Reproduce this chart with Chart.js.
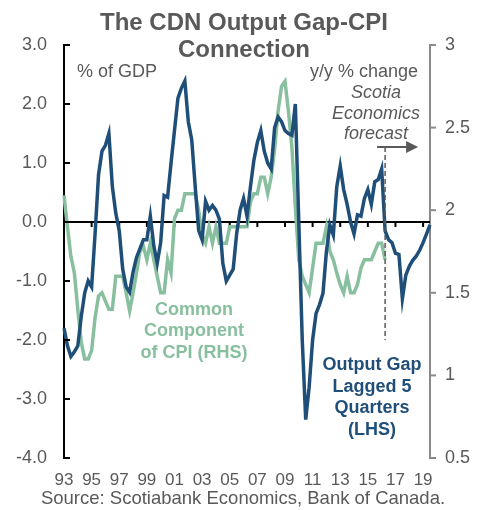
<!DOCTYPE html>
<html>
<head>
<meta charset="utf-8">
<script src="https://cdn.jsdelivr.net/npm/chart.js@4.4.1/dist/chart.umd.min.js"></script>
<style>
    html, body { margin: 0; padding: 0; background: #fff; }
</style>
</head>
<body>
<canvas id="myChart" width="487" height="510"></canvas>
<script>
// quarterly, 1993Q1 .. 2019Q3
const startYear = 1993;
const quarterCount = 107;
const quarterLabels = [];
for (let i = 0; i < quarterCount; i++) {
    quarterLabels.push((startYear + Math.floor(i / 4)) + 'Q' + (i % 4 + 1));
}
// x tick labels shown (odd years, first quarter)
const yearTicks = ['93', '95', '97', '99', '01', '03', '05', '07', '09', '11', '13', '15', '17', '19'];
const forecastStart = '2016Q2';

// output gap lagged 5 quarters, % of GDP (LHS)
const outputGap = [
    -1.8, -2.1, -2.28, -2.2, -2.1, -1.6, -1.2, -1.0, -1.1, -0.2,
    0.8, 1.2, 1.3, 1.5, 0.6, 0.15, -0.15, -0.8, -1.1, -1.19,
    -0.85, -0.6, -0.45, -0.3, -0.3, 0.1, -0.4, -0.7, -0.35, 0.45,
    0.42, 1.0, 1.55, 2.1, 2.27, 2.39, 1.7, 1.39, 0.6, -0.14,
    -0.3, 0.35, 0.2, 0.28, 0.2, 0.05, -0.7, -1.0, -0.9, -0.8,
    -0.2, 0.2, 0.4, 0.1, 0.6, 1.05, 1.35, 1.55, 1.2, 1.0,
    0.9, 1.6, 1.78, 1.7, 1.55, 1.5, 1.47, 2.0, 0.0, -2.0,
    -3.35, -2.8, -2.0, -1.55, -1.4, -1.21, -0.5, -0.05, -0.22, 0.6,
    0.95, 0.55, 0.3, 0.0, -0.2, 0.12, 0.1, 0.4, 0.55, 0.3,
    0.68, 0.72, 0.9, -0.15, -0.3, -0.35, -0.53, -0.55, -1.3, -0.9,
    -0.75, -0.65, -0.58, -0.48, -0.35, -0.2, -0.05
];

// common component of CPI, y/y % change (RHS)
const cpiCommon = [
    2.09, 1.9, 1.72, 1.62, 1.4, 1.2, 1.1, 1.1, 1.15, 1.35,
    1.48, 1.5, 1.45, 1.4, 1.4, 1.6, 1.6, 1.6, 1.5, 1.39,
    1.5, 1.62, 1.75, 1.78, 1.7, 1.8, 1.7, 1.6, 1.5, 1.5,
    1.7, 1.62, 1.95, 2.0, 2.0, 2.1, 2.1, 2.1, 2.1, 2.0,
    1.85, 1.8, 1.9, 1.8, 1.9, 1.8, 1.8, 1.8, 1.9, 1.9,
    1.9, 1.9, 1.9, 1.9, 2.05, 2.1, 2.1, 2.2, 2.2, 2.1,
    2.2, 2.37, 2.6, 2.75, 2.78, 2.6, 2.38, 2.02, 1.7, 1.6,
    1.55, 1.5, 1.65, 1.8, 1.8, 1.8, 1.9, 1.75, 1.7, 1.62,
    1.55, 1.5, 1.6, 1.5, 1.5, 1.55, 1.65, 1.7, 1.7, 1.7,
    1.75, 1.8, 1.8, 1.7
];

const leftTicks = [-4, -3, -2, -1, 0, 1, 2, 3];
const rightTicks = [0.5, 1, 1.5, 2, 2.5, 3];

const FONT = "'Liberation Sans', Arial, sans-serif";
const GREY = '#595959';
const BLUE = '#1f4e79';
const GREEN = '#88c09f';

function txt(ctx, s, x, y, font, color, align) {
    ctx.font = font;
    ctx.fillStyle = color;
    ctx.textAlign = align || 'center';
    ctx.textBaseline = 'middle';
    ctx.fillText(s, x, y);
}

const decor = {
    id: 'decor',
    beforeDatasetsDraw: function (chart) {
        const ctx = chart.ctx, a = chart.chartArea;
        const x = chart.scales.x, y = chart.scales.y;
        const y0 = y.getPixelForValue(0);
        ctx.save();
        ctx.strokeStyle = '#000';
        ctx.lineWidth = 2;
        ctx.beginPath();
        ctx.moveTo(a.left, y0);
        ctx.lineTo(a.right, y0);
        ctx.stroke();
        quarterLabels.forEach(function (lab, i) {
            if (i > 0 && yearTicks.indexOf(lab.slice(2, 4)) >= 0 && lab.endsWith('Q1')) {
                const px = x.getPixelForValue(i);
                ctx.beginPath();
                ctx.moveTo(px, y0);
                ctx.lineTo(px, y0 + 5);
                ctx.stroke();
            }
        });
        ctx.restore();
    },
    afterDraw: function (chart) {
        const ctx = chart.ctx, a = chart.chartArea;
        const x = chart.scales.x, y = chart.scales.y, y2 = chart.scales.y2;
        ctx.save();
        // axis tick marks
        ctx.lineWidth = 2;
        ctx.strokeStyle = '#000';
        leftTicks.forEach(function (v) {
            const py = y.getPixelForValue(v);
            ctx.beginPath();
            ctx.moveTo(a.left, py);
            ctx.lineTo(a.left + 6, py);
            ctx.stroke();
        });
        ctx.strokeStyle = '#8a8a8a';
        rightTicks.forEach(function (v) {
            const py = y2.getPixelForValue(v);
            ctx.beginPath();
            ctx.moveTo(a.right, py);
            ctx.lineTo(a.right + 6, py);
            ctx.stroke();
        });

        // title
        txt(ctx, 'The CDN Output Gap-CPI', 244, 23, 'bold 24px ' + FONT, GREY);
        txt(ctx, 'Connection', 244, 50, 'bold 24px ' + FONT, GREY);

        txt(ctx, '% of GDP', 77, 72, '18px ' + FONT, GREY, 'left');
        txt(ctx, 'y/y % change', 418, 72, '18px ' + FONT, GREY, 'right');
        txt(ctx, 'Scotia', 376, 93, 'italic 18px ' + FONT, GREY);
        txt(ctx, 'Economics', 376, 114, 'italic 18px ' + FONT, GREY);
        txt(ctx, 'forecast', 376, 134, 'italic 18px ' + FONT, GREY);

        // forecast marker
        const fx = x.getPixelForValue(quarterLabels.indexOf(forecastStart));
        ctx.strokeStyle = GREY;
        ctx.lineWidth = 1.5;
        ctx.setLineDash([5, 3]);
        ctx.beginPath();
        ctx.moveTo(fx, 147);
        ctx.lineTo(fx, 340);
        ctx.stroke();
        ctx.setLineDash([]);
        ctx.lineWidth = 2;
        ctx.beginPath();
        ctx.moveTo(fx - 8, 147);
        ctx.lineTo(fx + 24, 147);
        ctx.stroke();
        ctx.fillStyle = GREY;
        ctx.beginPath();
        ctx.moveTo(fx + 33, 147);
        ctx.lineTo(fx + 21, 141);
        ctx.lineTo(fx + 21, 153);
        ctx.closePath();
        ctx.fill();

        // series labels
        txt(ctx, 'Common', 194, 310, 'bold 18px ' + FONT, GREEN);
        txt(ctx, 'Component', 194, 331, 'bold 18px ' + FONT, GREEN);
        txt(ctx, 'of CPI (RHS)', 194, 353, 'bold 18px ' + FONT, GREEN);

        txt(ctx, 'Output Gap', 372, 365, 'bold 18px ' + FONT, BLUE);
        txt(ctx, 'Lagged 5', 372, 387, 'bold 18px ' + FONT, BLUE);
        txt(ctx, 'Quarters', 372, 408, 'bold 18px ' + FONT, BLUE);
        txt(ctx, '(LHS)', 372, 430, 'bold 18px ' + FONT, BLUE);

        txt(ctx, 'Source: Scotiabank Economics, Bank of Canada.', 243, 499, '18.5px ' + FONT, GREY);
        ctx.restore();
    }
};

const config = {
    type: 'line',
    data: {
        labels: quarterLabels,
        datasets: [{
            label: 'Output Gap Lagged 5 Quarters (LHS)',
            data: outputGap,
            yAxisID: 'y',
            borderColor: BLUE,
            borderWidth: 3.5,
            pointRadius: 0,
            tension: 0,
        }, {
            label: 'Common Component of CPI (RHS)',
            data: cpiCommon,
            yAxisID: 'y2',
            borderColor: GREEN,
            borderWidth: 3.5,
            pointRadius: 0,
            tension: 0,
        }],
    },
    options: {
        responsive: false,
        animation: false,
        layout: { padding: { top: 45, left: 0, right: 0, bottom: 0 } },
        plugins: { legend: { display: false }, tooltip: { enabled: false }, title: { display: false } },
        scales: {
            x: {
                grid: { display: false, drawTicks: false },
                border: { display: false },
                ticks: {
                    autoSkip: false,
                    maxRotation: 0,
                    minRotation: 0,
                    padding: 12,
                    color: GREY,
                    font: { family: FONT, size: 17 },
                    callback: function (val) {
                        const lab = this.getLabelForValue(val);
                        const yy = lab.slice(2, 4);
                        return (lab.endsWith('Q1') && yearTicks.indexOf(yy) >= 0) ? yy : '';
                    }
                },
                afterFit: function (s) { s.height = 52; }
            },
            y: {
                position: 'left',
                min: -4,
                max: 3,
                grid: { display: false, drawTicks: false },
                border: { display: true, color: '#000', width: 2 },
                ticks: {
                    stepSize: 1,
                    padding: 17,
                    color: GREY,
                    font: { family: FONT, size: 18 },
                    callback: function (v) { return v.toFixed(1); }
                },
                afterFit: function (s) { s.width = 64; }
            },
            y2: {
                position: 'right',
                min: 0.5,
                max: 3,
                grid: { display: false, drawTicks: false },
                border: { display: true, color: '#8a8a8a', width: 2 },
                ticks: {
                    stepSize: 0.5,
                    padding: 15,
                    color: GREY,
                    font: { family: FONT, size: 18 },
                    callback: function (v) { return String(v); }
                },
                afterFit: function (s) { s.width = 57; }
            }
        }
    },
    plugins: [decor]
};

const myChart = new Chart(document.getElementById('myChart'), config);
</script>
</body>
</html>
